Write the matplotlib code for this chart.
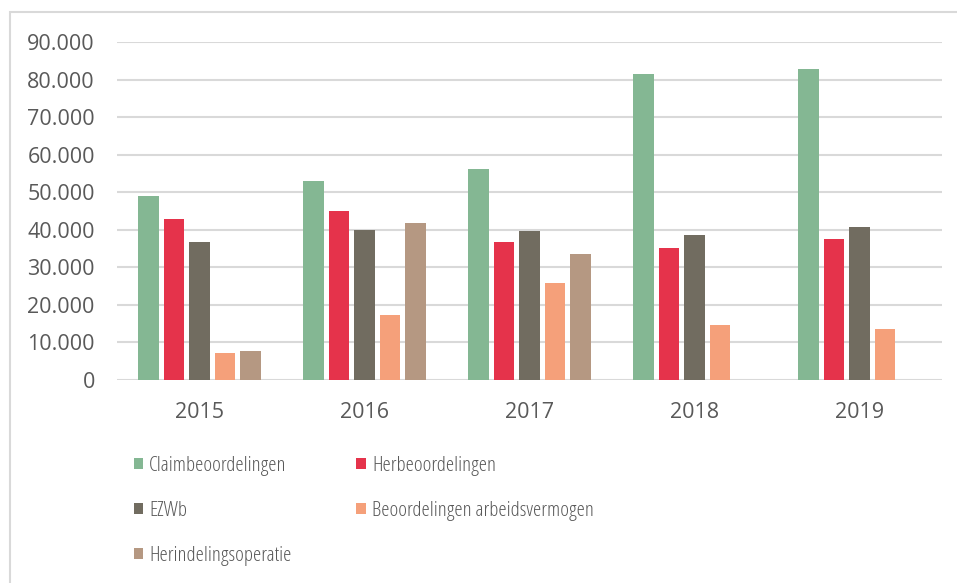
import matplotlib.pyplot as plt
import matplotlib.patches as patches
from matplotlib.font_manager import FontProperties
import numpy as np

# data
years = ["2015", "2016", "2017", "2018", "2019"]
series_names = ["Claimbeoordelingen", "Herbeoordelingen", "EZWb",
                "Beoordelingen arbeidsvermogen", "Herindelingsoperatie"]
claim = [49000, 53000, 56200, 81500, 82800]
herbeoordeling = [42900, 44900, 36800, 35100, 37500]
ezwb = [36800, 39900, 39600, 38500, 40800]
arbeidsvermogen = [7100, 17300, 25800, 14600, 13500]
herindeling = [7700, 41900, 33600, 0, 0]

colors = ["#84B793", "#E5334B", "#716C60", "#F5A07A", "#B59882"]
text_color = "#595959"
grid_color = "#D9D9D9"

plt.rcParams['font.family'] = ['Open Sans', 'DejaVu Sans']

fig = plt.figure(figsize=(9.57, 5.83), dpi=100)
fig.patches.append(patches.Rectangle((10 / 957, -0.01), 1.0, 1 - 12 / 583 + 0.01,
                                     transform=fig.transFigure, fill=False,
                                     edgecolor=grid_color, linewidth=1.5))

ax = fig.add_axes([117 / 957, 1 - 380 / 583, (942 - 117) / 957, (380 - 42) / 583])

x = np.arange(len(years))
slot = 0.155
bar_w = 0.125
all_series = [claim, herbeoordeling, ezwb, arbeidsvermogen, herindeling]
bars = []
for i, (vals, col) in enumerate(zip(all_series, colors)):
    offset = (i - 2) * slot
    b = ax.bar(x + offset, vals, width=bar_w, color=col, zorder=3)
    bars.append(b)

ax.set_xlim(-0.5, len(years) - 0.5)
ax.set_ylim(0, 90000)
ax.set_yticks(np.arange(0, 90001, 10000))
ax.set_yticklabels(["0" if v == 0 else f"{v // 1000}.000" for v in range(0, 90001, 10000)])
ax.set_xticks(x)
ax.set_xticklabels(years)
ax.tick_params(axis='both', length=0, labelsize=15.5, colors=text_color)
ax.tick_params(axis='y', pad=16)
ax.tick_params(axis='x', pad=16)
ax.grid(axis='y', color=grid_color, linewidth=1.5, zorder=0)
for s in ax.spines.values():
    s.set_visible(False)

# legend, filled column-wise so it reads row-wise
order = [0, 2, 4, 1, 3]
leg_font = FontProperties(family=['Open Sans', 'DejaVu Sans'], size=15, stretch='condensed')
fig.legend([bars[i] for i in order], [series_names[i] for i in order],
           loc='upper left', bbox_to_anchor=(115 / 957, 1 - 437 / 583),
           ncol=2, frameon=False, prop=leg_font, labelcolor=text_color,
           handlelength=0.45, handleheight=0.45, handletextpad=0.3,
           labelspacing=1.2, columnspacing=3.1)

fig.savefig("out.png", dpi=100)
